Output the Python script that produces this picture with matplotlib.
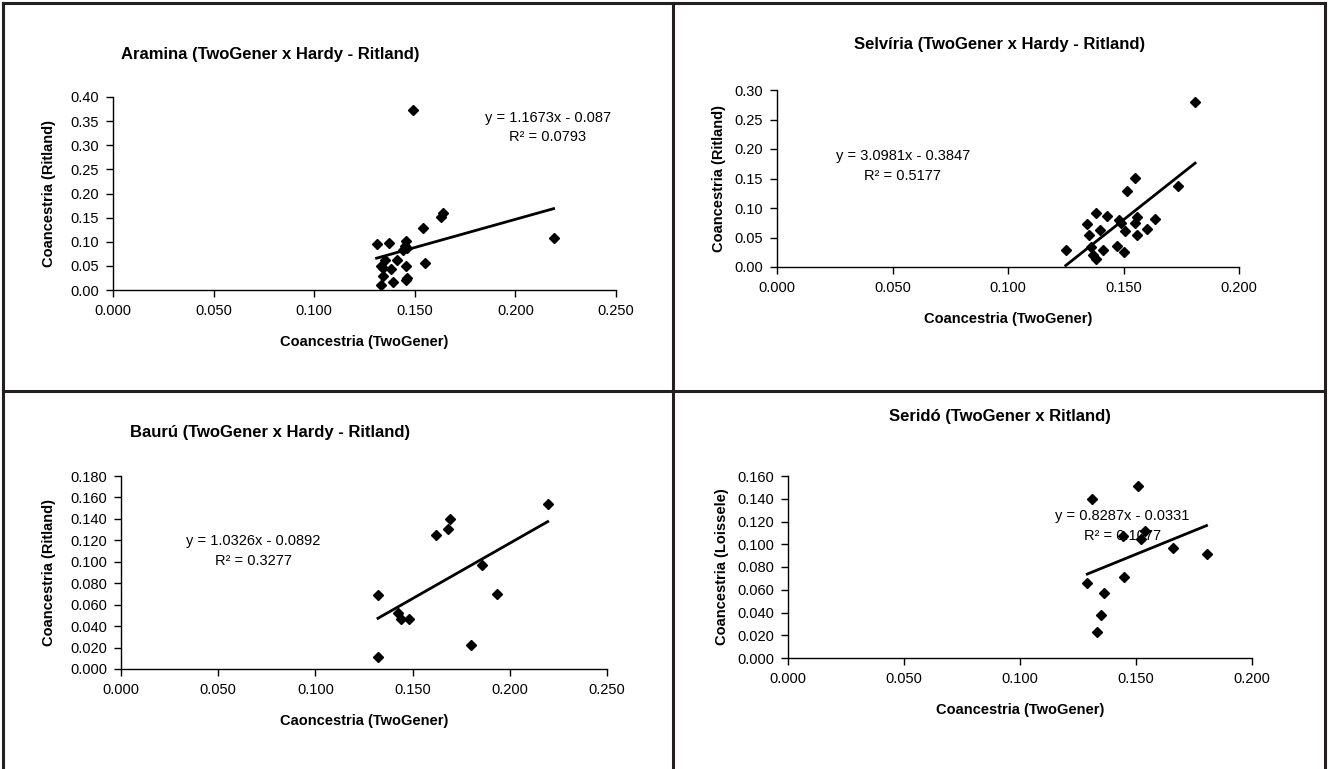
import matplotlib
matplotlib.use("Agg")
import matplotlib.pyplot as plt
from matplotlib.lines import Line2D
from matplotlib.ticker import FormatStrFormatter

plt.rcParams['font.family'] = ['Liberation Sans', 'DejaVu Sans']

W, H = 1330, 769

# Aramina
aramina_x = [0.149, 0.219, 0.164, 0.163, 0.154, 0.155, 0.131, 0.137, 0.1455, 0.145, 0.144, 0.146,
             0.141, 0.135, 0.133, 0.134, 0.138, 0.1455, 0.134, 0.139, 0.1455, 0.146, 0.133]
aramina_y = [0.373, 0.108, 0.159, 0.151, 0.128, 0.055, 0.095, 0.098, 0.101, 0.091, 0.083, 0.088,
             0.063, 0.062, 0.049, 0.045, 0.044, 0.050, 0.029, 0.017, 0.020, 0.024, 0.011]
aramina_fit = (1.1673, -0.087, 0.0793)

# Selviria
selviria_x = [0.181, 0.1734, 0.155, 0.1516, 0.138, 0.143, 0.134, 0.148, 0.149, 0.156, 0.155, 0.1635,
              0.140, 0.135, 0.1507, 0.156, 0.160, 0.125, 0.136, 0.141, 0.147, 0.150, 0.137, 0.138]
selviria_y = [0.280, 0.138, 0.151, 0.128, 0.092, 0.087, 0.073, 0.079, 0.074, 0.084, 0.074, 0.081,
              0.063, 0.055, 0.061, 0.055, 0.065, 0.028, 0.034, 0.029, 0.035, 0.025, 0.020, 0.014]
selviria_fit = (3.0981, -0.3847, 0.5177)

# Bauru
bauru_x = [0.2195, 0.1694, 0.1682, 0.1622, 0.1857, 0.1934, 0.1322, 0.1423, 0.1438, 0.1483, 0.1802, 0.1322]
bauru_y = [0.154, 0.140, 0.131, 0.125, 0.097, 0.070, 0.069, 0.052, 0.047, 0.047, 0.022, 0.011]
bauru_fit = (1.0326, -0.0892, 0.3277)

# Serido
serido_x = [0.151, 0.131, 0.154, 0.152, 0.1444, 0.166, 0.1804, 0.145, 0.129, 0.136, 0.135, 0.133]
serido_y = [0.151, 0.140, 0.112, 0.105, 0.107, 0.097, 0.091, 0.071, 0.066, 0.057, 0.038, 0.023]
serido_fit = (0.8287, -0.0331, 0.1077)

fig = plt.figure(figsize=(W / 100, H / 100), dpi=100)


def px_axes(left, right, top, bottom):
    return fig.add_axes([left / W, 1 - bottom / H, (right - left) / W, (bottom - top) / H])


def panel(ax, x, y, fit, xmax, ymax, ystep, yfmt, xlabel, ylabel, eq_pos, ypad):
    slope, icpt, r2 = fit
    ax.plot(x, y, linestyle='none', marker='D', ms=5.5, color='black')
    x0, x1 = min(x), max(x)
    ax.plot([x0, x1], [slope * x0 + icpt, slope * x1 + icpt], color='black', lw=2)
    ax.set_xlim(0, xmax)
    ax.set_ylim(0, ymax)
    xt = [i * 0.05 for i in range(int(round(xmax / 0.05)) + 1)]
    yt = [i * ystep for i in range(int(round(ymax / ystep)) + 1)]
    ax.set_xticks(xt)
    ax.set_yticks(yt)
    ax.xaxis.set_major_formatter(FormatStrFormatter('%.3f'))
    ax.yaxis.set_major_formatter(FormatStrFormatter(yfmt))
    ax.spines['top'].set_visible(False)
    ax.spines['right'].set_visible(False)
    ax.spines['left'].set_linewidth(1.0)
    ax.spines['bottom'].set_linewidth(1.0)
    ax.tick_params(direction='out', length=5, width=1, labelsize=10.5, colors='black', pad=5)
    ax.set_xlabel(xlabel, fontsize=10.5, fontweight='bold', labelpad=12)
    ax.set_ylabel(ylabel, fontsize=10.5, fontweight='bold', labelpad=ypad)
    sign = '-' if icpt < 0 else '+'
    ax.text(eq_pos[0], eq_pos[1], f"y = {slope}x {sign} {abs(icpt)}\nR² = {r2}",
            ha='center', va='center', fontsize=10.5, linespacing=1.5)


ax1 = px_axes(113, 616, 97, 290)
panel(ax1, aramina_x, aramina_y, aramina_fit, 0.25, 0.40, 0.05, '%.2f',
      'Coancestria (TwoGener)', 'Coancestria (Ritland)', (0.216, 0.337), 10)

ax2 = px_axes(777, 1239, 90, 267)
panel(ax2, selviria_x, selviria_y, selviria_fit, 0.20, 0.30, 0.05, '%.2f',
      'Coancestria (TwoGener)', 'Coancestria (Ritland)', (0.0545, 0.171), 6)

ax3 = px_axes(121, 607, 476, 669)
panel(ax3, bauru_x, bauru_y, bauru_fit, 0.25, 0.18, 0.02, '%.3f',
      'Caoncestria (TwoGener)', 'Coancestria (Ritland)', (0.068, 0.110), 10)

ax4 = px_axes(788, 1252, 476, 658)
panel(ax4, serido_x, serido_y, serido_fit, 0.20, 0.16, 0.02, '%.3f',
      'Coancestria (TwoGener)', 'Coancestria (Loissele)', (0.144, 0.116), 6)

titles = ["Aramina (TwoGener x Hardy - Ritland)", "Selvíria (TwoGener x Hardy - Ritland)",
          "Baurú (TwoGener x Hardy - Ritland)", "Seridó (TwoGener x Ritland)"]
title_px = [(270, 55), (1000, 45), (270, 432), (1000, 417)]
for t, (tx, ty) in zip(titles, title_px):
    fig.text(tx / W, 1 - ty / H, t, ha='center', va='center', fontsize=12, fontweight='bold')

# panel frames
vx, hy = 673, 391
frame = [((3, 3), (H - 3, 0)), ((W - 5, W - 5), (H - 3, 0)), ((3, W - 5), (H - 3, H - 3)),
         ((vx, vx), (H - 3, 0)), ((3, W - 5), (H - hy, H - hy))]
for xs, ys in frame:
    fig.add_artist(Line2D([xs[0] / W, xs[1] / W], [ys[0] / H, ys[1] / H], color='#231f20', lw=2.2))

fig.savefig('out.png', dpi=100)
